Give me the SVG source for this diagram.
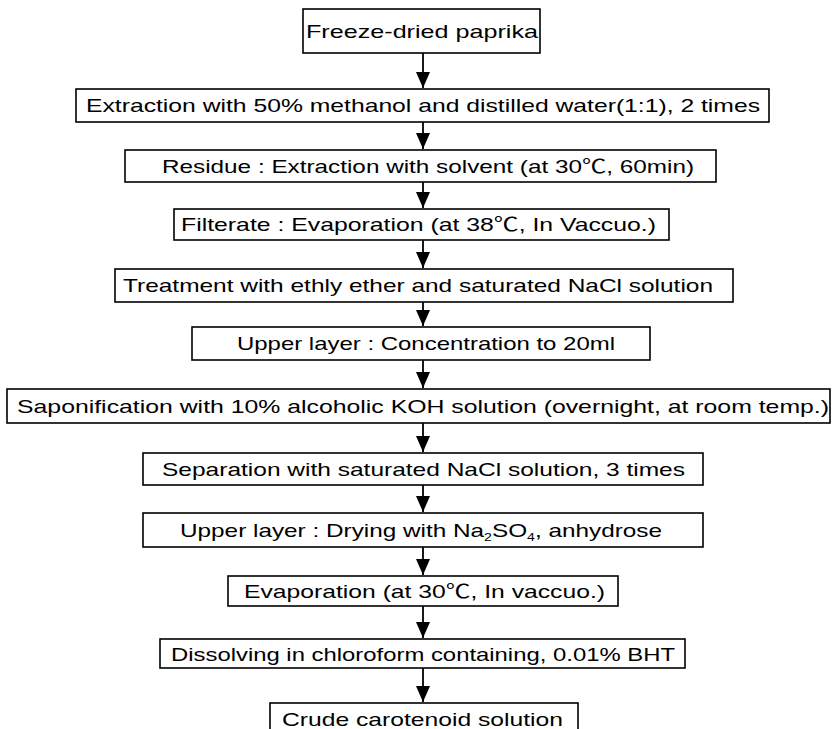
<svg xmlns="http://www.w3.org/2000/svg" width="833" height="729" viewBox="0 0 833 729">
<style>
.box{fill:#fff;stroke:#000;stroke-width:1.6}
.t{font-family:"Liberation Sans","Noto Sans CJK KR",sans-serif;font-size:19px;fill:#000}
.c{stroke:#000;stroke-width:1.8;fill:none}
</style>
<defs>
<marker id="ah" markerWidth="14" markerHeight="16" refX="7" refY="15" orient="auto" markerUnits="userSpaceOnUse" viewBox="0 0 14 16">
<path d="M0,0 L14,0 L7,16 Z" fill="#000" transform="rotate(-90 7 8)"/>
</marker>
<marker id="ad" markerWidth="14" markerHeight="16" refX="7" refY="16" orient="0" markerUnits="userSpaceOnUse" viewBox="0 0 14 16">
<path d="M0,0 L14,0 L7,16 Z" fill="#000"/>
</marker>
</defs>
<rect width="833" height="729" fill="#fff"/>
<g id="connectors">
<line class="c" x1="423" y1="53" x2="423" y2="88" marker-end="url(#ad)"/>
<line class="c" x1="423" y1="122" x2="423" y2="149" marker-end="url(#ad)"/>
<line class="c" x1="423" y1="182" x2="423" y2="208" marker-end="url(#ad)"/>
<line class="c" x1="423" y1="240" x2="423" y2="268" marker-end="url(#ad)"/>
<line class="c" x1="423" y1="302" x2="423" y2="326" marker-end="url(#ad)"/>
<line class="c" x1="423" y1="360" x2="423" y2="388" marker-end="url(#ad)"/>
<line class="c" x1="423" y1="423" x2="423" y2="452" marker-end="url(#ad)"/>
<line class="c" x1="423" y1="485" x2="423" y2="512" marker-end="url(#ad)"/>
<line class="c" x1="423" y1="547" x2="423" y2="575" marker-end="url(#ad)"/>
<line class="c" x1="423" y1="606" x2="423" y2="638" marker-end="url(#ad)"/>
<line class="c" x1="423" y1="668" x2="423" y2="702" marker-end="url(#ad)"/>
</g>
<g id="n1"><rect class="box" x="303" y="9" width="237" height="44"/><text class="t" x="306" y="38" textLength="232" lengthAdjust="spacingAndGlyphs">Freeze-dried paprika</text></g>
<g id="n2"><rect class="box" x="76" y="89" width="693" height="33"/><text class="t" x="86" y="112" textLength="674" lengthAdjust="spacingAndGlyphs">Extraction with 50% methanol and distilled water(1:1), 2 times</text></g>
<g id="n3"><rect class="box" x="125" y="150" width="591" height="32"/><text class="t" x="162" y="173" textLength="532" lengthAdjust="spacingAndGlyphs">Residue : Extraction with solvent (at 30℃, 60min)</text></g>
<g id="n4"><rect class="box" x="174" y="209" width="495" height="31"/><text class="t" x="181" y="231" textLength="475" lengthAdjust="spacingAndGlyphs">Filterate : Evaporation (at 38℃, In Vaccuo.)</text></g>
<g id="n5"><rect class="box" x="115" y="269" width="618" height="33"/><text class="t" x="123" y="292" textLength="590" lengthAdjust="spacingAndGlyphs">Treatment with ethly ether and saturated NaCl solution</text></g>
<g id="n6"><rect class="box" x="192" y="327" width="458" height="33"/><text class="t" x="237" y="350" textLength="378" lengthAdjust="spacingAndGlyphs">Upper layer : Concentration to 20ml</text></g>
<g id="n7"><rect class="box" x="7" y="389" width="823" height="34"/><text class="t" x="17" y="413" textLength="812" lengthAdjust="spacingAndGlyphs">Saponification with 10% alcoholic KOH solution (overnight, at room temp.)</text></g>
<g id="n8"><rect class="box" x="143" y="453" width="560" height="32"/><text class="t" x="162" y="476" textLength="523" lengthAdjust="spacingAndGlyphs">Separation with saturated NaCl solution, 3 times</text></g>
<g id="n9"><rect class="box" x="143" y="513" width="560" height="34"/><text class="t" x="180" y="537" textLength="482" lengthAdjust="spacingAndGlyphs">Upper layer : Drying with Na<tspan font-size="11" dy="4">2</tspan><tspan dy="-4">SO</tspan><tspan font-size="11" dy="4">4</tspan><tspan dy="-4">, anhydrose</tspan></text></g>
<g id="n10"><rect class="box" x="228" y="576" width="390" height="30"/><text class="t" x="244" y="598" textLength="361" lengthAdjust="spacingAndGlyphs">Evaporation (at 30℃, In vaccuo.)</text></g>
<g id="n11"><rect class="box" x="160" y="639" width="525" height="29"/><text class="t" x="171" y="661" textLength="504" lengthAdjust="spacingAndGlyphs">Dissolving in chloroform containing, 0.01% BHT</text></g>
<g id="n12"><rect class="box" x="270" y="703" width="308" height="32"/><text class="t" x="282" y="726" textLength="281" lengthAdjust="spacingAndGlyphs">Crude carotenoid solution</text></g>
</svg>
